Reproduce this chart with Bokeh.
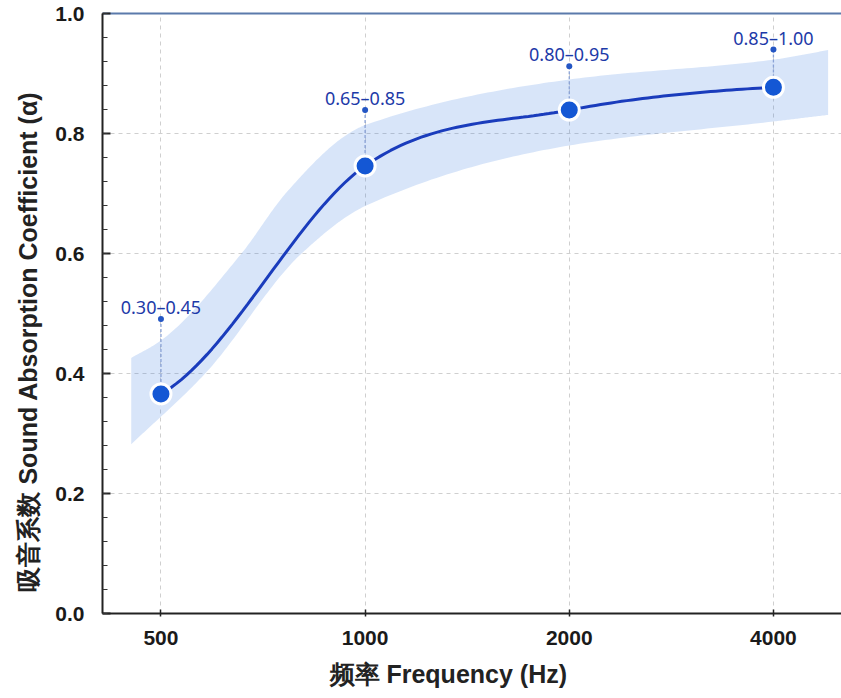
import numpy as np
from bokeh.plotting import figure
from bokeh.models import (LinearAxis, FixedTicker, SingleIntervalTicker, Range1d,
                          ColumnDataSource, NumeralTickFormatter, Title)
from bokeh.core.properties import value
from bokeh.embed import file_html
from bokeh.resources import INLINE

# ---------------- data ----------------
freqs = [500, 1000, 2000, 4000]
alpha = [0.366, 0.746, 0.839, 0.877]
range_labels = ["0.30–0.45", "0.65–0.85", "0.80–0.95", "0.85–1.00"]
label_anchor = [0.491, 0.839, 0.912, 0.940]

band_up_freqs = [452, 500, 655, 766, 940, 1000, 2000, 4000, 4816]
band_upper = [0.426, 0.455, 0.598, 0.702, 0.798, 0.814, 0.890, 0.923, 0.939]
band_lo_freqs = [452, 581, 806, 1000, 2000, 4000, 4816]
band_lower = [0.282, 0.400, 0.600, 0.679, 0.780, 0.820, 0.831]

x_ticks = [500, 1000, 2000, 4000]
x_title = "频率 Frequency (Hz)"
y_title = "吸音系数 Sound Absorption Coefficient (α)"


# ---------------- smooth rendering helpers (in log-frequency) ----------------
def hermite(lx, y, m, n=40):
    outx, outy = [], []
    k = len(lx)
    for i in range(k - 1):
        h = lx[i + 1] - lx[i]
        t = np.linspace(0, 1, n, endpoint=(i == k - 2))
        h00 = 2 * t**3 - 3 * t**2 + 1
        h10 = t**3 - 2 * t**2 + t
        h01 = -2 * t**3 + 3 * t**2
        h11 = t**3 - t**2
        outx.extend(2 ** (lx[i] + t * h))
        outy.extend(h00 * y[i] + h10 * h * m[i] + h01 * y[i + 1] + h11 * h * m[i + 1])
    return np.array(outx), np.array(outy)


def catmull(xs, ys):
    lx = np.log2(np.asarray(xs, float)); y = np.asarray(ys, float)
    k = len(lx); m = np.zeros(k)
    for i in range(k):
        if i == 0:
            m[i] = 0.5 * (y[1] - y[0]) / (lx[1] - lx[0])
        elif i == k - 1:
            m[i] = 0.5 * (y[-1] - y[-2]) / (lx[-1] - lx[-2])
        else:
            m[i] = (y[i + 1] - y[i - 1]) / (lx[i + 1] - lx[i - 1])
    return hermite(lx, y, m)


def pchip(xs, ys):
    lx = np.log2(np.asarray(xs, float)); y = np.asarray(ys, float)
    h = np.diff(lx); d = np.diff(y) / h
    k = len(lx); m = np.zeros(k)
    for i in range(1, k - 1):
        if d[i - 1] * d[i] <= 0:
            m[i] = 0
        else:
            w1 = 2 * h[i] + h[i - 1]; w2 = h[i] + 2 * h[i - 1]
            m[i] = (w1 + w2) / (w1 / d[i - 1] + w2 / d[i])
    m[0] = d[0]; m[-1] = d[-1]
    return hermite(lx, y, m)


lx, ly = catmull(freqs, alpha)
ux, uy = pchip(band_up_freqs, band_upper)
wx, wy = pchip(band_lo_freqs, band_lower)

# ---------------- figure ----------------
p = figure(width=841, height=698, x_axis_type="log",
           x_range=Range1d(410, 5040), y_range=Range1d(0, 1.0),
           output_backend="svg", toolbar_location=None,
           min_border_left=101, min_border_right=0, min_border_top=13,
           min_border_bottom=85)
p.background_fill_color = "white"
p.border_fill_color = "white"
p.outline_line_color = None

# grids
p.xgrid.ticker = FixedTicker(ticks=x_ticks)
p.ygrid.ticker = FixedTicker(ticks=[0.2, 0.4, 0.6, 0.8])
for g in (p.xgrid, p.ygrid):
    g.grid_line_color = "#cfcfcf"
    g.grid_line_dash = "4 4"
    g.grid_line_width = 1

# band (closed polygon from upper and lower edges)
p.patch(np.concatenate([ux, wx[::-1]]), np.concatenate([uy, wy[::-1]]),
        fill_color="#3b7de0", fill_alpha=0.2, line_color=None)

# connectors from label dots to points
src = ColumnDataSource(dict(x=freqs, y=alpha, ya=label_anchor, lab=range_labels))
p.segment(x0="x", y0="ya", x1="x", y1="y", source=src,
          line_color="#8aa2d6", line_width=1.3, line_dash="3 2")

# main curve
p.line(lx, ly, line_color="#1a3cbc", line_width=3)

# points
p.scatter("x", "y", source=src, size=20, fill_color="#1457d4",
          line_color="white", line_width=3)

# label dots & labels
p.scatter("x", "ya", source=src, size=6, fill_color="#2456c4", line_color=None)
p.text("x", "ya", text="lab", source=src, y_offset=-12,
       text_align="center", text_baseline="alphabetic",
       text_font=value("Noto Sans"), text_font_size="18px",
       text_color="#1d3aa8")

# ---------------- axes ----------------
xa = p.xaxis[0]
xa.ticker = FixedTicker(ticks=x_ticks)
xa.formatter = NumeralTickFormatter(format="0")
xa.axis_line_color = "#222222"
xa.axis_line_width = 2
xa.major_tick_in = 4
xa.major_tick_out = 3
xa.major_tick_line_color = "#222222"
xa.major_tick_line_width = 1.5
xa.minor_tick_line_color = None
xa.major_label_standoff = 14
xa.major_label_text_font = "Liberation Sans"
xa.major_label_text_font_style = "bold"
xa.major_label_text_font_size = "21px"
xa.major_label_text_color = "#1a1a1a"

ya = p.yaxis[0]
ya.ticker = SingleIntervalTicker(interval=0.2, num_minor_ticks=5)
ya.formatter = NumeralTickFormatter(format="0.0")
ya.axis_line_color = "#222222"
ya.axis_line_width = 2
ya.major_tick_in = 8
ya.major_tick_out = 0
ya.minor_tick_in = 5
ya.minor_tick_out = 0
ya.major_tick_line_color = "#222222"
ya.major_tick_line_width = 2
ya.minor_tick_line_color = "#333333"
ya.minor_tick_line_width = 1.2
ya.major_label_standoff = 18
ya.major_label_text_font = "Liberation Sans"
ya.major_label_text_font_style = "bold"
ya.major_label_text_font_size = "21px"
ya.major_label_text_color = "#1a1a1a"

# axis titles (as Titles so they can be offset along the axis like the reference)
xt = Title(text=x_title, align="left", offset=227, standoff=20,
           text_font="Liberation Sans", text_font_style="bold",
           text_font_size="25px", text_color="#222222")
p.add_layout(xt, "below")
yt = Title(text=y_title, align="left", offset=22, standoff=22,
           text_font="Liberation Sans", text_font_style="bold",
           text_font_size="25px", text_color="#222222")
p.add_layout(yt, "left")

top = LinearAxis(ticker=FixedTicker(ticks=[]), axis_line_color="#5b7aab",
                 axis_line_width=2, major_tick_in=0, major_tick_out=0,
                 minor_tick_in=0, minor_tick_out=0,
                 major_label_text_font_size="0px", major_label_standoff=0)
p.add_layout(top, "above")

open("out.html", "w").write(file_html(p, INLINE))
